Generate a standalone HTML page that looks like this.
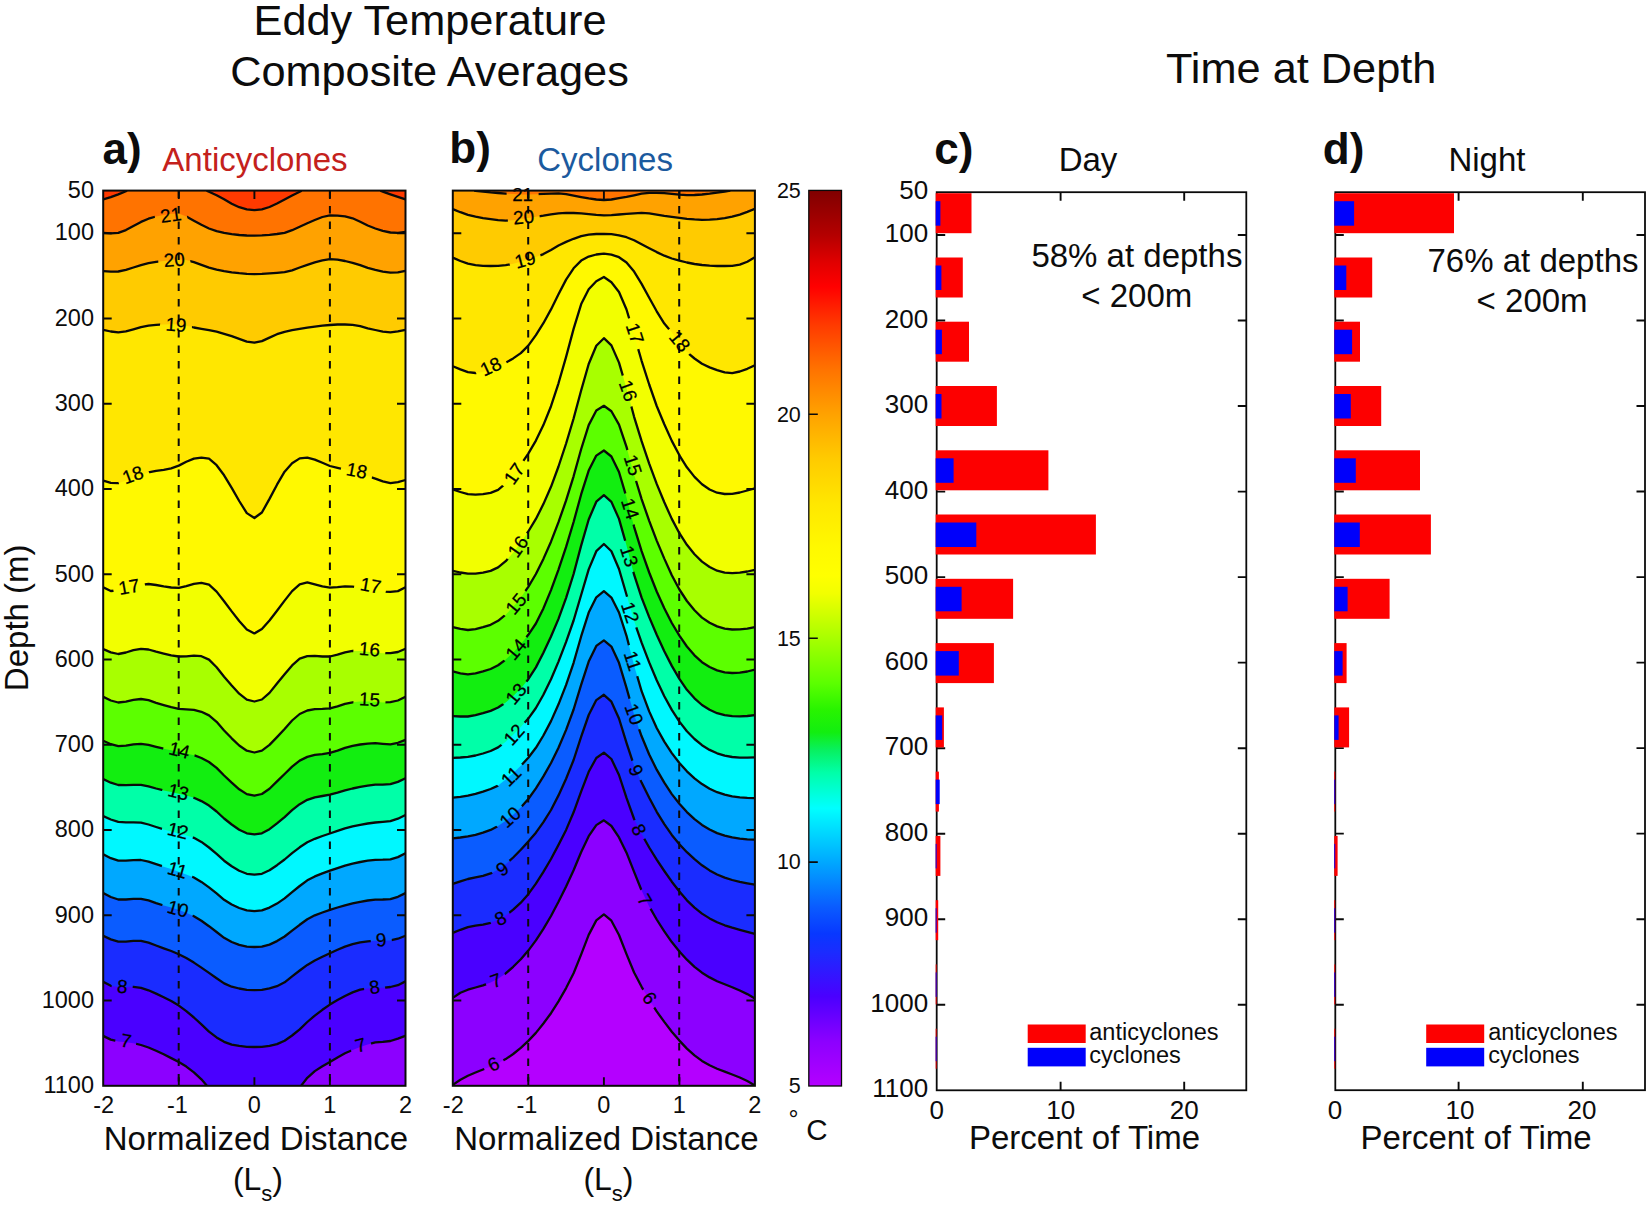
<!DOCTYPE html>
<html><head><meta charset="utf-8"><title>Eddy Temperature Composite Averages / Time at Depth</title>
<style>html,body{margin:0;padding:0;background:#fff}svg{display:block}</style></head>
<body>
<svg width="1650" height="1206" viewBox="0 0 1650 1206" font-family='"Liberation Sans", Arial, Helvetica, sans-serif' fill="#0c0c0c">
<rect width="1650" height="1206" fill="#fff"/>
<text x="430.0" y="34.8" font-size="43.3" text-anchor="middle">Eddy Temperature</text>
<text x="429.5" y="86.2" font-size="43.3" text-anchor="middle">Composite Averages</text>
<text x="1301.2" y="82.6" font-size="43.3" text-anchor="middle">Time at Depth</text>
<text x="102.5" y="163.5" font-size="44" font-weight="bold">a)</text>
<text x="449.3" y="162.8" font-size="44" font-weight="bold">b)</text>
<text x="934.3" y="163.5" font-size="44" font-weight="bold">c)</text>
<text x="1322.8" y="163.5" font-size="44" font-weight="bold">d)</text>
<text x="255.0" y="171.0" font-size="33" text-anchor="middle" fill="#c4211c">Anticyclones</text>
<text x="605.1" y="170.5" font-size="33" text-anchor="middle" fill="#1b5a9e">Cyclones</text>
<text x="1088.0" y="171.0" font-size="33" text-anchor="middle">Day</text>
<text x="1486.9" y="171.0" font-size="33" text-anchor="middle">Night</text>
<defs><clipPath id="ca"><rect x="103.2" y="190.6" width="302.3" height="895.2"/></clipPath>
<clipPath id="cb"><rect x="452.8" y="190.6" width="302.1" height="895.2"/></clipPath>
<linearGradient id="cbar" x1="0" y1="0" x2="0" y2="1"><stop offset="0.0000" stop-color="#800000"/><stop offset="0.0500" stop-color="#b40000"/><stop offset="0.0800" stop-color="#e00000"/><stop offset="0.1075" stop-color="#ff0000"/><stop offset="0.1500" stop-color="#ff3a00"/><stop offset="0.2000" stop-color="#ff7300"/><stop offset="0.2500" stop-color="#ffa200"/><stop offset="0.3000" stop-color="#ffcb00"/><stop offset="0.3500" stop-color="#ffe700"/><stop offset="0.4000" stop-color="#fff900"/><stop offset="0.4300" stop-color="#ffff00"/><stop offset="0.4500" stop-color="#f2ff00"/><stop offset="0.5000" stop-color="#a8ff00"/><stop offset="0.5500" stop-color="#5cff00"/><stop offset="0.5800" stop-color="#28f400"/><stop offset="0.6050" stop-color="#12ee10"/><stop offset="0.6250" stop-color="#08f060"/><stop offset="0.6500" stop-color="#00ffa8"/><stop offset="0.6900" stop-color="#00ffff"/><stop offset="0.7000" stop-color="#00f0ff"/><stop offset="0.7500" stop-color="#00a8ff"/><stop offset="0.8000" stop-color="#0a5cff"/><stop offset="0.8300" stop-color="#0838ff"/><stop offset="0.8500" stop-color="#1a2cff"/><stop offset="0.9000" stop-color="#4a00ff"/><stop offset="0.9500" stop-color="#8c00ff"/><stop offset="1.0000" stop-color="#b400ff"/></linearGradient>
<mask id="ma" maskUnits="userSpaceOnUse" x="98.2" y="185.6" width="312.3" height="905.2"><rect x="98.2" y="185.6" width="312.3" height="905.2" fill="#fff"/><rect x="154.7" y="206.9" width="32" height="16" fill="#000" transform="rotate(-8 170.7 214.9)"/><rect x="158.2" y="251.6" width="32" height="16" fill="#000" transform="rotate(-4 174.2 259.6)"/><rect x="160.1" y="316.6" width="32" height="16" fill="#000" transform="rotate(4 176.1 324.6)"/><rect x="116.8" y="466.7" width="32" height="16" fill="#000" transform="rotate(-20 132.8 474.7)"/><rect x="340.9" y="462.5" width="32" height="16" fill="#000" transform="rotate(11 356.9 470.5)"/><rect x="113.0" y="578.7" width="32" height="16" fill="#000" transform="rotate(-10 129.0 586.7)"/><rect x="354.6" y="577.3" width="32" height="16" fill="#000" transform="rotate(10 370.6 585.3)"/><rect x="353.6" y="641.1" width="32" height="16" fill="#000" transform="rotate(5 369.6 649.1)"/><rect x="353.6" y="691.2" width="32" height="16" fill="#000" transform="rotate(3 369.6 699.2)"/><rect x="163.4" y="742.0" width="32" height="16" fill="#000" transform="rotate(14 179.4 750.0)"/><rect x="162.4" y="783.7" width="32" height="16" fill="#000" transform="rotate(14 178.4 791.7)"/><rect x="162.0" y="822.6" width="32" height="16" fill="#000" transform="rotate(14 178.0 830.6)"/><rect x="161.5" y="861.8" width="32" height="16" fill="#000" transform="rotate(16 177.5 869.8)"/><rect x="162.0" y="900.6" width="32" height="16" fill="#000" transform="rotate(16 178.0 908.6)"/><rect x="370.7" y="931.6" width="21" height="16" fill="#000" transform="rotate(-5 381.2 939.6)"/><rect x="111.7" y="978.2" width="21" height="16" fill="#000" transform="rotate(5 122.2 986.2)"/><rect x="363.9" y="978.8" width="21" height="16" fill="#000" transform="rotate(-8 374.4 986.8)"/><rect x="115.5" y="1032.6" width="21" height="16" fill="#000" transform="rotate(10 126.0 1040.6)"/><rect x="350.0" y="1037.0" width="21" height="16" fill="#000" transform="rotate(-15 360.5 1045.0)"/></mask><mask id="mb" maskUnits="userSpaceOnUse" x="447.8" y="185.6" width="312.1" height="905.2"><rect x="447.8" y="185.6" width="312.1" height="905.2" fill="#fff"/><rect x="506.6" y="186.6" width="32" height="16" fill="#000" transform="rotate(0 522.6 194.6)"/><rect x="507.6" y="208.9" width="32" height="16" fill="#000" transform="rotate(-5 523.6 216.9)"/><rect x="509.0" y="251.6" width="32" height="16" fill="#000" transform="rotate(-15 525.0 259.6)"/><rect x="474.6" y="358.3" width="32" height="16" fill="#000" transform="rotate(-25 490.6 366.3)"/><rect x="663.8" y="333.1" width="32" height="16" fill="#000" transform="rotate(50 679.8 341.1)"/><rect x="619.2" y="325.3" width="32" height="16" fill="#000" transform="rotate(72 635.2 333.3)"/><rect x="612.4" y="382.6" width="32" height="16" fill="#000" transform="rotate(70 628.4 390.6)"/><rect x="497.9" y="465.7" width="32" height="16" fill="#000" transform="rotate(-55 513.9 473.7)"/><rect x="501.8" y="538.5" width="32" height="16" fill="#000" transform="rotate(-55 517.8 546.5)"/><rect x="499.8" y="595.8" width="32" height="16" fill="#000" transform="rotate(-50 515.8 603.8)"/><rect x="617.2" y="457.0" width="32" height="16" fill="#000" transform="rotate(72 633.2 465.0)"/><rect x="614.3" y="500.7" width="32" height="16" fill="#000" transform="rotate(72 630.3 508.7)"/><rect x="613.4" y="548.2" width="32" height="16" fill="#000" transform="rotate(72 629.4 556.2)"/><rect x="614.3" y="604.5" width="32" height="16" fill="#000" transform="rotate(72 630.3 612.5)"/><rect x="499.8" y="641.1" width="32" height="16" fill="#000" transform="rotate(-50 515.8 649.1)"/><rect x="499.8" y="685.7" width="32" height="16" fill="#000" transform="rotate(-50 515.8 693.7)"/><rect x="497.9" y="726.5" width="32" height="16" fill="#000" transform="rotate(-48 513.9 734.5)"/><rect x="495.0" y="768.2" width="32" height="16" fill="#000" transform="rotate(-45 511.0 776.2)"/><rect x="494.0" y="809.0" width="32" height="16" fill="#000" transform="rotate(-42 510.0 817.0)"/><rect x="616.9" y="652.8" width="32" height="16" fill="#000" transform="rotate(72 632.9 660.8)"/><rect x="618.2" y="706.1" width="32" height="16" fill="#000" transform="rotate(70 634.2 714.1)"/><rect x="625.7" y="762.4" width="21" height="16" fill="#000" transform="rotate(68 636.2 770.4)"/><rect x="628.6" y="821.6" width="21" height="16" fill="#000" transform="rotate(65 639.1 829.6)"/><rect x="491.7" y="860.8" width="21" height="16" fill="#000" transform="rotate(-35 502.2 868.8)"/><rect x="489.8" y="910.3" width="21" height="16" fill="#000" transform="rotate(-25 500.3 918.3)"/><rect x="485.3" y="972.4" width="21" height="16" fill="#000" transform="rotate(-20 495.8 980.4)"/><rect x="634.4" y="891.9" width="21" height="16" fill="#000" transform="rotate(60 644.9 899.9)"/><rect x="639.2" y="989.9" width="21" height="16" fill="#000" transform="rotate(55 649.7 997.9)"/><rect x="483.0" y="1056.0" width="21" height="16" fill="#000" transform="rotate(-25 493.5 1064.0)"/></mask></defs>
<g clip-path="url(#ca)">
<rect x="103.2" y="190.6" width="302.3" height="895.2" fill="#ff7300"/>
<path d="M98.2,185.6L98.2,199.4L103.2,199.4L110.8,197.1L118.3,194.4L125.9,191.2L127.0,190.7L127.0,185.6Z" fill="#ff3a00"/>
<path d="M206.6,185.6L206.6,190.7L209.0,191.8L216.6,195.2L224.1,199.3L231.7,203.7L239.2,207.2L246.8,209.4L254.4,210.1L261.9,209.3L269.5,207.0L277.0,203.5L284.6,199.5L292.1,195.5L299.7,191.7L301.7,190.7L301.7,185.6Z" fill="#ff3a00"/>
<path d="M380.3,185.6L380.3,190.7L382.8,191.6L390.4,194.3L397.9,196.9L405.5,199.4L410.5,199.4L410.5,185.6Z" fill="#ff3a00"/>
<path d="M98.2,232.8L103.2,232.8L110.8,233.3L118.3,232.9L125.9,230.1L133.4,226.0L141.0,221.9L148.5,218.7L156.1,216.5L163.7,215.0L171.2,213.7L178.8,213.4L186.3,216.6L193.9,220.8L201.4,224.8L209.0,228.5L216.6,231.2L224.1,232.9L231.7,234.1L239.2,235.0L246.8,235.5L254.4,235.7L261.9,235.4L269.5,234.8L277.0,234.0L284.6,232.9L292.1,230.2L299.7,226.7L307.3,223.2L314.8,220.0L322.4,217.0L329.9,215.4L337.5,215.7L345.0,216.4L352.6,218.3L360.2,221.7L367.7,225.5L375.3,228.5L382.8,230.9L390.4,232.5L397.9,232.9L405.5,232.0L410.5,232.0L410.5,1090.8L98.2,1090.8Z" fill="#ffa200"/>
<path d="M98.2,271.2L103.2,271.2L110.8,271.7L118.3,271.5L125.9,269.9L133.4,267.5L141.0,265.1L148.5,263.2L156.1,261.9L163.7,260.9L171.2,260.0L178.8,259.6L186.3,260.1L193.9,262.1L201.4,264.8L209.0,267.6L216.6,269.6L224.1,271.1L231.7,272.3L239.2,273.2L246.8,273.8L254.4,274.1L261.9,273.9L269.5,273.4L277.0,272.8L284.6,272.2L292.1,270.3L299.7,267.5L307.3,264.8L314.8,262.4L322.4,260.3L329.9,259.2L337.5,259.6L345.0,261.0L352.6,262.8L360.2,265.2L367.7,267.9L375.3,269.9L382.8,271.6L390.4,272.7L397.9,272.4L405.5,270.8L410.5,270.8L410.5,1090.8L98.2,1090.8Z" fill="#ffcb00"/>
<path d="M98.2,329.8L103.2,329.8L110.8,331.5L118.3,332.4L125.9,331.4L133.4,329.3L141.0,327.1L148.5,325.6L156.1,324.8L163.7,324.4L171.2,324.2L178.8,324.6L186.3,325.8L193.9,327.5L201.4,328.8L209.0,330.1L216.6,331.7L224.1,333.8L231.7,336.2L239.2,338.8L246.8,341.6L254.4,342.6L261.9,341.1L269.5,337.6L277.0,334.2L284.6,331.8L292.1,330.2L299.7,328.9L307.3,327.7L314.8,326.6L322.4,325.7L329.9,325.0L337.5,324.5L345.0,324.5L352.6,324.9L360.2,326.2L367.7,328.3L375.3,330.0L382.8,331.6L390.4,332.3L397.9,331.4L405.5,329.8L410.5,329.8L410.5,1090.8L98.2,1090.8Z" fill="#ffe700"/>
<path d="M98.2,480.5L103.2,480.5L110.8,482.8L118.3,483.2L125.9,480.8L133.4,478.0L141.0,475.0L148.5,472.4L156.1,470.8L163.7,469.8L171.2,468.3L178.8,465.6L186.3,461.8L193.9,458.6L201.4,457.6L209.0,458.7L216.6,465.2L224.1,475.3L231.7,487.9L239.2,501.0L246.8,513.1L254.4,518.0L261.9,512.5L269.5,498.9L277.0,484.7L284.6,471.7L292.1,463.3L299.7,458.4L307.3,457.7L314.8,459.6L322.4,462.8L329.9,466.0L337.5,467.8L345.0,469.6L352.6,471.5L360.2,473.7L367.7,476.1L375.3,478.6L382.8,481.4L390.4,483.1L397.9,482.1L405.5,480.0L410.5,480.0L410.5,1090.8L98.2,1090.8Z" fill="#fff900"/>
<path d="M98.2,587.3L103.2,587.3L110.8,591.0L118.3,590.3L125.9,588.2L133.4,586.5L141.0,584.8L148.5,584.0L156.1,585.0L163.7,586.4L171.2,587.5L178.8,587.9L186.3,586.1L193.9,583.9L201.4,582.8L209.0,584.7L216.6,591.6L224.1,601.2L231.7,611.4L239.2,621.0L246.8,629.4L254.4,633.4L261.9,629.0L269.5,620.5L277.0,610.8L284.6,600.6L292.1,591.1L299.7,584.3L307.3,582.4L314.8,584.3L322.4,586.4L329.9,587.7L337.5,587.1L345.0,586.3L352.6,586.7L360.2,587.6L367.7,588.8L375.3,590.3L382.8,591.6L390.4,591.9L397.9,591.1L405.5,587.3L410.5,587.3L410.5,1090.8L98.2,1090.8Z" fill="#f2ff00"/>
<path d="M98.2,649.1L103.2,649.1L110.8,652.4L118.3,654.0L125.9,652.5L133.4,650.2L141.0,648.8L148.5,649.5L156.1,651.7L163.7,653.6L171.2,655.3L178.8,656.5L186.3,656.3L193.9,655.7L201.4,656.2L209.0,659.6L216.6,667.3L224.1,676.8L231.7,685.5L239.2,693.7L246.8,699.6L254.4,701.5L261.9,699.5L269.5,692.9L277.0,683.5L284.6,674.3L292.1,665.4L299.7,658.6L307.3,656.1L314.8,655.9L322.4,656.5L329.9,656.5L337.5,654.7L345.0,652.4L352.6,650.9L360.2,651.0L367.7,651.8L375.3,652.4L382.8,653.2L390.4,653.2L397.9,652.0L405.5,648.7L410.5,648.7L410.5,1090.8L98.2,1090.8Z" fill="#a8ff00"/>
<path d="M98.2,696.7L103.2,696.7L110.8,700.5L118.3,702.5L125.9,701.6L133.4,699.9L141.0,699.0L148.5,700.2L156.1,702.8L163.7,705.1L171.2,707.2L178.8,708.9L186.3,709.4L193.9,709.8L201.4,711.8L209.0,715.4L216.6,721.8L224.1,730.5L231.7,738.3L239.2,745.5L246.8,750.7L254.4,752.5L261.9,750.6L269.5,744.9L277.0,737.1L284.6,729.0L292.1,720.5L299.7,714.0L307.3,710.5L314.8,709.1L322.4,708.9L329.9,708.3L337.5,706.3L345.0,703.9L352.6,702.3L360.2,701.6L367.7,701.5L375.3,701.7L382.8,702.4L390.4,702.1L397.9,700.5L405.5,696.7L410.5,696.7L410.5,1090.8L98.2,1090.8Z" fill="#5cff00"/>
<path d="M98.2,740.7L103.2,740.7L110.8,744.2L118.3,746.1L125.9,745.7L133.4,744.4L141.0,743.8L148.5,744.8L156.1,746.8L163.7,748.7L171.2,750.3L178.8,751.9L186.3,753.4L193.9,755.2L201.4,758.0L209.0,762.0L216.6,767.9L224.1,775.5L231.7,782.6L239.2,789.3L246.8,794.1L254.4,795.6L261.9,794.0L269.5,788.8L277.0,781.4L284.6,774.0L292.1,766.6L299.7,760.6L307.3,756.9L314.8,754.9L322.4,754.1L329.9,752.9L337.5,750.6L345.0,747.9L352.6,745.8L360.2,744.5L367.7,743.6L375.3,743.2L382.8,743.8L390.4,744.3L397.9,742.8L405.5,739.9L410.5,739.9L410.5,1090.8L98.2,1090.8Z" fill="#12ee10"/>
<path d="M98.2,779.1L103.2,779.1L110.8,782.7L118.3,785.0L125.9,785.2L133.4,784.8L141.0,784.9L148.5,786.3L156.1,788.5L163.7,790.4L171.2,792.0L178.8,793.7L186.3,795.5L193.9,797.8L201.4,801.1L209.0,805.6L216.6,811.5L224.1,818.5L231.7,824.5L239.2,829.7L246.8,833.3L254.4,834.4L261.9,833.3L269.5,829.2L277.0,823.4L284.6,817.1L292.1,810.2L299.7,804.2L307.3,799.8L314.8,797.3L322.4,796.0L329.9,794.6L337.5,792.6L345.0,790.4L352.6,788.5L360.2,786.9L367.7,785.6L375.3,784.7L382.8,784.6L390.4,784.2L397.9,781.9L405.5,778.2L410.5,778.2L410.5,1090.8L98.2,1090.8Z" fill="#00ffa8"/>
<path d="M98.2,816.0L103.2,816.0L110.8,819.5L118.3,821.8L125.9,822.3L133.4,822.3L141.0,822.7L148.5,824.5L156.1,827.0L163.7,829.4L171.2,831.4L178.8,833.5L186.3,835.4L193.9,837.8L201.4,841.9L209.0,847.5L216.6,853.8L224.1,860.7L231.7,866.3L239.2,870.8L246.8,873.8L254.4,874.6L261.9,873.8L269.5,870.3L277.0,865.2L284.6,859.5L292.1,853.1L299.7,847.3L307.3,842.3L314.8,838.8L322.4,836.0L329.9,833.5L337.5,830.8L345.0,828.4L352.6,826.3L360.2,824.8L367.7,823.5L375.3,822.5L382.8,821.9L390.4,821.2L397.9,818.7L405.5,815.0L410.5,815.0L410.5,1090.8L98.2,1090.8Z" fill="#00f8ff"/>
<path d="M98.2,854.3L103.2,854.3L110.8,858.2L118.3,860.7L125.9,860.7L133.4,860.1L141.0,860.0L148.5,861.6L156.1,864.2L163.7,866.7L171.2,869.1L178.8,871.7L186.3,874.4L193.9,877.5L201.4,881.9L209.0,887.4L216.6,893.4L224.1,899.8L231.7,904.5L239.2,908.0L246.8,910.4L254.4,911.1L261.9,910.4L269.5,907.6L277.0,903.6L284.6,898.4L292.1,892.1L299.7,886.0L307.3,880.3L314.8,876.4L322.4,873.4L329.9,870.7L337.5,868.1L345.0,865.7L352.6,863.6L360.2,862.0L367.7,860.7L375.3,859.8L382.8,859.7L390.4,859.4L397.9,857.1L405.5,853.3L410.5,853.3L410.5,1090.8L98.2,1090.8Z" fill="#00a8ff"/>
<path d="M98.2,893.1L103.2,893.1L110.8,897.0L118.3,899.5L125.9,899.5L133.4,898.9L141.0,898.8L148.5,900.4L156.1,903.1L163.7,905.5L171.2,907.6L178.8,909.9L186.3,912.8L193.9,916.3L201.4,920.8L209.0,926.2L216.6,932.0L224.1,937.8L231.7,942.0L239.2,944.9L246.8,946.7L254.4,947.0L261.9,946.7L269.5,944.6L277.0,941.1L284.6,936.5L292.1,930.7L299.7,924.8L307.3,919.2L314.8,915.3L322.4,912.5L329.9,909.9L337.5,907.5L345.0,905.3L352.6,903.4L360.2,901.8L367.7,900.5L375.3,899.6L382.8,899.5L390.4,899.1L397.9,896.8L405.5,893.1L410.5,893.1L410.5,1090.8L98.2,1090.8Z" fill="#0a5cff"/>
<path d="M98.2,935.8L103.2,935.8L110.8,939.4L118.3,941.6L125.9,941.6L133.4,940.9L141.0,940.9L148.5,942.7L156.1,945.5L163.7,948.3L171.2,951.0L178.8,954.2L186.3,958.1L193.9,962.6L201.4,967.6L209.0,972.9L216.6,978.2L224.1,983.4L231.7,986.7L239.2,988.5L246.8,989.8L254.4,990.1L261.9,989.8L269.5,988.3L277.0,986.2L284.6,982.3L292.1,976.3L299.7,970.5L307.3,964.9L314.8,960.5L322.4,956.7L329.9,953.2L337.5,949.8L345.0,946.6L352.6,944.1L360.2,942.4L367.7,941.3L375.3,940.7L382.8,940.7L390.4,940.4L397.9,938.7L405.5,935.8L410.5,935.8L410.5,1090.8L98.2,1090.8Z" fill="#1a2cff"/>
<path d="M98.2,981.8L103.2,981.8L110.8,985.8L118.3,987.1L125.9,986.9L133.4,986.8L141.0,987.8L148.5,990.3L156.1,993.6L163.7,997.2L171.2,1001.1L178.8,1005.6L186.3,1011.2L193.9,1017.5L201.4,1024.4L209.0,1031.7L216.6,1037.4L224.1,1041.8L231.7,1044.6L239.2,1045.9L246.8,1046.8L254.4,1047.0L261.9,1046.8L269.5,1045.8L277.0,1044.1L284.6,1040.7L292.1,1035.5L299.7,1029.3L307.3,1022.0L314.8,1015.6L322.4,1009.8L329.9,1004.6L337.5,1000.1L345.0,996.0L352.6,992.4L360.2,989.6L367.7,988.4L375.3,988.0L382.8,987.8L390.4,987.0L397.9,985.2L405.5,981.4L410.5,981.4L410.5,1090.8L98.2,1090.8Z" fill="#4a00ff"/>
<path d="M98.2,1035.9L103.1,1035.9L110.8,1039.6L118.3,1041.4L125.9,1042.2L133.4,1043.2L141.0,1045.0L148.5,1047.5L156.1,1050.7L163.7,1054.3L171.2,1058.1L178.8,1062.1L186.3,1066.6L193.9,1072.3L201.4,1079.3L207.1,1085.9L207.1,1090.8L98.2,1090.8Z" fill="#8c00ff"/>
<path d="M301.0,1090.8L301.0,1085.9L307.3,1077.8L314.8,1071.1L322.4,1066.2L329.9,1061.9L337.5,1057.4L345.0,1053.3L352.6,1050.0L360.2,1047.1L367.7,1044.4L375.3,1042.4L382.8,1041.8L390.4,1041.0L397.9,1038.6L405.3,1035.9L410.5,1035.9L410.5,1090.8Z" fill="#8c00ff"/>
</g>
<g clip-path="url(#cb)">
<rect x="452.8" y="190.6" width="302.1" height="895.2" fill="#ffa200"/>
<path d="M474.1,185.6L474.1,190.7L475.5,190.8L483.0,191.6L490.6,192.4L498.1,193.0L505.7,193.6L513.2,194.1L520.8,194.5L528.3,194.6L535.9,194.2L543.4,193.9L551.0,193.6L558.5,193.4L566.1,194.2L573.6,195.7L581.2,197.1L588.7,198.4L596.3,199.5L603.9,200.0L611.4,199.5L619.0,198.2L626.5,196.9L634.1,195.3L641.6,193.6L649.2,192.9L656.7,192.9L664.3,193.2L671.8,193.8L679.4,194.6L686.9,195.1L694.5,195.0L702.0,194.5L709.6,193.7L717.1,192.6L724.7,191.5L730.3,190.7L730.3,185.6Z" fill="#ff7300"/>
<path d="M447.8,209.1L452.8,209.1L460.4,212.2L467.9,214.8L475.5,216.7L483.0,218.1L490.6,219.2L498.1,220.2L505.7,220.7L513.2,220.3L520.8,219.0L528.3,217.9L535.9,216.8L543.4,215.7L551.0,214.4L558.5,213.3L566.1,212.8L573.6,213.0L581.2,213.4L588.7,214.1L596.3,214.9L603.9,215.3L611.4,215.1L619.0,214.5L626.5,213.9L634.1,213.3L641.6,212.9L649.2,213.4L656.7,214.6L664.3,215.9L671.8,216.9L679.4,217.9L686.9,218.8L694.5,219.4L702.0,219.8L709.6,219.7L717.1,219.1L724.7,218.1L732.2,216.7L739.8,214.6L747.3,211.9L754.9,208.7L759.9,208.7L759.9,1090.8L447.8,1090.8Z" fill="#ffcb00"/>
<path d="M447.8,257.6L452.8,257.6L460.4,261.0L467.9,263.7L475.5,265.1L483.0,265.8L490.6,266.0L498.1,265.9L505.7,265.2L513.2,263.8L520.8,261.7L528.3,259.5L535.9,257.1L543.4,254.1L551.0,249.9L558.5,245.5L566.1,241.9L573.6,238.8L581.2,236.2L588.7,234.7L596.3,234.0L603.9,233.8L611.4,234.1L619.0,235.3L626.5,237.2L634.1,240.3L641.6,244.3L649.2,248.2L656.7,252.1L664.3,255.7L671.8,258.5L679.4,260.7L686.9,262.5L694.5,264.0L702.0,265.0L709.6,265.7L717.1,266.0L724.7,266.0L732.2,265.8L739.8,264.6L747.3,261.7L754.9,257.2L759.9,257.2L759.9,1090.8L447.8,1090.8Z" fill="#ffe700"/>
<path d="M447.8,366.3L452.8,366.3L460.4,369.4L467.9,372.2L475.5,373.0L483.0,371.9L490.6,369.9L498.1,366.6L505.7,362.7L513.2,358.4L520.8,353.1L528.3,345.6L535.9,335.1L543.4,323.2L551.0,309.4L558.5,294.3L566.1,279.6L573.6,268.3L581.2,260.6L588.7,256.6L596.3,254.5L603.9,253.7L611.4,254.6L619.0,257.2L626.5,262.5L634.1,271.6L641.6,283.9L649.2,297.8L656.7,311.3L664.3,323.6L671.8,332.4L679.4,343.7L686.9,352.1L694.5,358.5L702.0,363.7L709.6,367.4L717.1,370.1L724.7,372.3L732.2,373.1L739.8,371.5L747.3,368.8L754.9,365.3L759.9,365.3L759.9,1090.8L447.8,1090.8Z" fill="#fff900"/>
<path d="M447.8,489.3L452.8,489.3L460.4,492.0L467.9,494.1L475.5,494.6L483.0,494.1L490.6,492.9L498.1,489.9L505.7,483.4L513.2,474.7L520.8,464.7L528.3,453.6L535.9,440.6L543.4,425.1L551.0,406.2L558.5,383.3L566.1,356.9L573.6,328.9L581.2,304.1L588.7,289.3L596.3,281.2L603.9,277.0L611.4,282.3L619.0,292.0L626.5,309.5L634.1,334.8L641.6,360.8L649.2,384.5L656.7,406.0L664.3,424.3L671.8,440.9L679.4,455.3L686.9,467.3L694.5,476.9L702.0,484.3L709.6,489.5L717.1,492.7L724.7,494.0L732.2,493.8L739.8,492.5L747.3,490.5L754.9,488.3L759.9,488.3L759.9,1090.8L447.8,1090.8Z" fill="#f2ff00"/>
<path d="M447.8,570.8L452.8,570.8L460.4,572.5L467.9,573.7L475.5,573.6L483.0,572.6L490.6,570.9L498.1,567.4L505.7,561.2L513.2,552.6L520.8,542.7L528.3,531.5L535.9,518.9L543.4,504.1L551.0,486.8L558.5,466.5L566.1,443.5L573.6,418.5L581.2,390.3L588.7,364.0L596.3,345.8L603.9,338.2L611.4,345.4L619.0,362.6L626.5,388.3L634.1,416.8L641.6,441.2L649.2,463.6L656.7,483.9L664.3,502.3L671.8,518.9L679.4,533.2L686.9,544.8L694.5,554.2L702.0,561.6L709.6,567.0L717.1,570.7L724.7,572.7L732.2,573.2L739.8,572.7L747.3,571.5L754.9,569.8L759.9,569.8L759.9,1090.8L447.8,1090.8Z" fill="#a8ff00"/>
<path d="M447.8,627.1L452.8,627.1L460.4,628.9L467.9,630.0L475.5,629.1L483.0,627.2L490.6,624.8L498.1,620.8L505.7,614.7L513.2,606.8L520.8,597.5L528.3,586.8L535.9,574.0L543.4,558.9L551.0,541.7L558.5,522.2L566.1,500.4L573.6,476.3L581.2,449.0L588.7,425.1L596.3,410.5L603.9,405.8L611.4,411.2L619.0,424.6L626.5,446.9L634.1,474.5L641.6,499.1L649.2,520.8L656.7,540.6L664.3,558.6L671.8,575.2L679.4,589.5L686.9,601.0L694.5,610.3L702.0,617.6L709.6,622.8L717.1,626.4L724.7,628.6L732.2,629.5L739.8,629.4L747.3,628.6L754.9,627.1L759.9,627.1L759.9,1090.8L447.8,1090.8Z" fill="#5cff00"/>
<path d="M447.8,671.4L452.8,671.4L460.4,673.3L467.9,674.3L475.5,673.4L483.0,671.4L490.6,669.0L498.1,665.2L505.7,659.6L513.2,652.4L520.8,644.2L528.3,634.8L535.9,623.5L543.4,608.4L551.0,590.1L558.5,569.6L566.1,546.9L573.6,522.0L581.2,494.2L588.7,470.6L596.3,455.6L603.9,450.5L611.4,456.5L619.0,472.0L626.5,497.4L634.1,526.8L641.6,551.1L649.2,572.5L656.7,591.5L664.3,608.2L671.8,623.0L679.4,635.7L686.9,646.5L694.5,655.3L702.0,662.2L709.6,667.0L717.1,670.4L724.7,672.3L732.2,673.0L739.8,672.7L747.3,671.5L754.9,669.5L759.9,669.5L759.9,1090.8L447.8,1090.8Z" fill="#12ee10"/>
<path d="M447.8,716.1L452.8,716.1L460.4,716.5L467.9,716.5L475.5,715.2L483.0,713.2L490.6,710.9L498.1,707.5L505.7,702.5L513.2,696.1L520.8,688.4L528.3,679.2L535.9,667.4L543.4,652.8L551.0,636.5L558.5,618.9L566.1,597.8L573.6,574.0L581.2,545.4L588.7,519.5L596.3,501.7L603.9,495.1L611.4,501.9L619.0,518.9L626.5,545.4L634.1,574.7L641.6,597.7L649.2,617.1L656.7,634.8L664.3,651.3L671.8,665.9L679.4,678.9L686.9,689.8L694.5,698.3L702.0,705.0L709.6,709.8L717.1,713.2L724.7,715.2L732.2,716.2L739.8,716.4L747.3,716.0L754.9,715.1L759.9,715.1L759.9,1090.8L447.8,1090.8Z" fill="#00ffa8"/>
<path d="M447.8,757.8L452.8,757.8L460.4,757.5L467.9,756.9L475.5,755.5L483.0,753.5L490.6,751.0L498.1,747.4L505.7,741.7L513.2,734.8L520.8,727.1L528.3,718.6L535.9,708.0L543.4,694.7L551.0,679.2L558.5,661.6L566.1,641.9L573.6,620.5L581.2,594.7L588.7,569.4L596.3,551.2L603.9,544.0L611.4,551.3L619.0,569.0L626.5,594.8L634.1,621.1L641.6,642.7L649.2,662.4L656.7,680.2L664.3,696.2L671.8,709.9L679.4,721.6L686.9,731.3L694.5,739.0L702.0,745.2L709.6,749.9L717.1,753.3L724.7,755.7L732.2,757.0L739.8,757.7L747.3,757.7L754.9,757.4L759.9,757.4L759.9,1090.8L447.8,1090.8Z" fill="#00f8ff"/>
<path d="M447.8,797.6L452.8,797.6L460.4,796.8L467.9,795.7L475.5,793.9L483.0,791.7L490.6,789.0L498.1,785.6L505.7,779.6L513.2,773.0L520.8,765.8L528.3,757.8L535.9,747.8L543.4,735.5L551.0,721.1L558.5,704.3L566.1,684.9L573.6,662.8L581.2,636.2L588.7,612.6L596.3,597.3L603.9,591.2L611.4,597.6L619.0,612.5L626.5,635.8L634.1,665.4L641.6,691.2L649.2,711.4L656.7,728.0L664.3,741.6L671.8,753.1L679.4,763.0L686.9,771.3L694.5,778.3L702.0,784.1L709.6,788.7L717.1,792.2L724.7,794.7L732.2,796.3L739.8,797.3L747.3,797.9L754.9,798.1L759.9,798.1L759.9,1090.8L447.8,1090.8Z" fill="#00a8ff"/>
<path d="M447.8,838.3L452.8,838.3L460.4,837.5L467.9,836.4L475.5,834.8L483.0,832.7L490.6,829.9L498.1,825.9L505.7,820.8L513.2,814.7L520.8,807.6L528.3,799.0L535.9,788.3L543.4,776.4L551.0,763.0L558.5,747.7L566.1,729.9L573.6,709.5L581.2,684.7L588.7,661.6L596.3,645.9L603.9,640.4L611.4,646.6L619.0,662.8L626.5,687.8L634.1,714.8L641.6,736.3L649.2,754.5L656.7,769.7L664.3,782.7L671.8,794.1L679.4,803.8L686.9,812.1L694.5,819.1L702.0,824.9L709.6,829.5L717.1,833.1L724.7,835.6L732.2,837.4L739.8,838.6L747.3,839.3L754.9,839.7L759.9,839.7L759.9,1090.8L447.8,1090.8Z" fill="#0a5cff"/>
<path d="M447.8,883.8L452.8,883.8L460.4,881.3L467.9,879.0L475.5,877.4L483.0,875.8L490.6,873.4L498.1,869.5L505.7,864.2L513.2,857.5L520.8,849.8L528.3,841.6L535.9,832.7L543.4,822.1L551.0,810.0L558.5,795.4L566.1,778.7L573.6,760.0L581.2,736.7L588.7,715.0L596.3,700.1L603.9,694.8L611.4,701.7L619.0,718.5L626.5,742.9L634.1,765.9L641.6,782.6L649.2,797.8L656.7,811.8L664.3,824.2L671.8,834.9L679.4,844.2L686.9,852.2L694.5,859.2L702.0,865.3L709.6,870.4L717.1,874.5L724.7,877.6L732.2,880.0L739.8,881.8L747.3,883.3L754.9,884.7L759.9,884.7L759.9,1090.8L447.8,1090.8Z" fill="#1a2cff"/>
<path d="M447.8,932.9L452.8,932.9L460.4,929.8L467.9,927.1L475.5,925.7L483.0,924.6L490.6,922.8L498.1,919.8L505.7,915.5L513.2,909.7L520.8,902.7L528.3,894.2L535.9,883.7L543.4,871.9L551.0,859.0L558.5,844.9L566.1,829.9L573.6,812.3L581.2,791.3L588.7,771.8L596.3,758.0L603.9,752.6L611.4,759.0L619.0,775.0L626.5,797.9L634.1,819.0L641.6,834.0L649.2,847.5L656.7,859.7L664.3,871.0L671.8,881.7L679.4,891.5L686.9,900.3L694.5,907.6L702.0,913.6L709.6,918.4L717.1,922.3L724.7,925.3L732.2,927.7L739.8,929.9L747.3,931.9L754.9,934.0L759.9,934.0L759.9,1090.8L447.8,1090.8Z" fill="#4a00ff"/>
<path d="M447.8,997.9L452.8,997.9L460.4,992.7L467.9,989.7L475.5,987.5L483.0,985.3L490.6,982.6L498.1,978.8L505.7,973.4L513.2,966.8L520.8,959.3L528.3,950.6L535.9,940.4L543.4,928.8L551.0,916.0L558.5,901.8L566.1,886.4L573.6,870.2L581.2,852.0L588.7,836.2L596.3,825.1L603.9,820.3L611.4,826.0L619.0,837.4L626.5,852.7L634.1,871.9L641.6,890.5L649.2,906.4L656.7,919.5L664.3,931.4L671.8,942.1L679.4,951.4L686.9,959.7L694.5,966.8L702.0,972.7L709.6,977.4L717.1,981.2L724.7,984.3L732.2,987.2L739.8,990.5L747.3,994.1L754.9,998.4L759.9,998.4L759.9,1090.8L447.8,1090.8Z" fill="#8c00ff"/>
<path d="M447.8,1084.9L452.8,1084.9L460.4,1079.7L467.9,1075.7L475.5,1072.5L483.0,1069.5L490.6,1066.6L498.1,1063.2L505.7,1059.1L513.2,1054.0L520.8,1047.9L528.3,1040.9L535.9,1032.9L543.4,1023.5L551.0,1013.2L558.5,1001.4L566.1,988.1L573.6,973.3L581.2,954.4L588.7,934.9L596.3,920.4L603.9,914.4L611.4,920.7L619.0,935.0L626.5,954.1L634.1,972.5L641.6,986.8L649.2,999.7L656.7,1011.4L664.3,1021.9L671.8,1031.7L679.4,1040.6L686.9,1048.6L694.5,1055.3L702.0,1060.9L709.6,1065.3L717.1,1068.7L724.7,1071.6L732.2,1074.5L739.8,1077.5L747.3,1081.0L754.7,1085.3L759.9,1085.3L759.9,1090.8L447.8,1090.8Z" fill="#b400ff"/>
</g>
<g clip-path="url(#ca)"><g mask="url(#ma)" fill="none" stroke="#0a0a0a" stroke-width="2.3" stroke-linejoin="round">
<path d="M103.2,199.4L110.8,197.1L118.3,194.4L125.9,191.2L127.0,190.7"/>
<path d="M206.6,190.7L209.0,191.8L216.6,195.2L224.1,199.3L231.7,203.7L239.2,207.2L246.8,209.4L254.4,210.1L261.9,209.3L269.5,207.0L277.0,203.5L284.6,199.5L292.1,195.5L299.7,191.7L301.7,190.7"/>
<path d="M380.3,190.7L382.8,191.6L390.4,194.3L397.9,196.9L405.5,199.4"/>
<path d="M103.2,232.8L110.8,233.3L118.3,232.9L125.9,230.1L133.4,226.0L141.0,221.9L148.5,218.7L156.1,216.5L163.7,215.0L171.2,213.7L178.8,213.4L186.3,216.6L193.9,220.8L201.4,224.8L209.0,228.5L216.6,231.2L224.1,232.9L231.7,234.1L239.2,235.0L246.8,235.5L254.4,235.7L261.9,235.4L269.5,234.8L277.0,234.0L284.6,232.9L292.1,230.2L299.7,226.7L307.3,223.2L314.8,220.0L322.4,217.0L329.9,215.4L337.5,215.7L345.0,216.4L352.6,218.3L360.2,221.7L367.7,225.5L375.3,228.5L382.8,230.9L390.4,232.5L397.9,232.9L405.5,232.0"/>
<path d="M103.2,271.2L110.8,271.7L118.3,271.5L125.9,269.9L133.4,267.5L141.0,265.1L148.5,263.2L156.1,261.9L163.7,260.9L171.2,260.0L178.8,259.6L186.3,260.1L193.9,262.1L201.4,264.8L209.0,267.6L216.6,269.6L224.1,271.1L231.7,272.3L239.2,273.2L246.8,273.8L254.4,274.1L261.9,273.9L269.5,273.4L277.0,272.8L284.6,272.2L292.1,270.3L299.7,267.5L307.3,264.8L314.8,262.4L322.4,260.3L329.9,259.2L337.5,259.6L345.0,261.0L352.6,262.8L360.2,265.2L367.7,267.9L375.3,269.9L382.8,271.6L390.4,272.7L397.9,272.4L405.5,270.8"/>
<path d="M103.2,329.8L110.8,331.5L118.3,332.4L125.9,331.4L133.4,329.3L141.0,327.1L148.5,325.6L156.1,324.8L163.7,324.4L171.2,324.2L178.8,324.6L186.3,325.8L193.9,327.5L201.4,328.8L209.0,330.1L216.6,331.7L224.1,333.8L231.7,336.2L239.2,338.8L246.8,341.6L254.4,342.6L261.9,341.1L269.5,337.6L277.0,334.2L284.6,331.8L292.1,330.2L299.7,328.9L307.3,327.7L314.8,326.6L322.4,325.7L329.9,325.0L337.5,324.5L345.0,324.5L352.6,324.9L360.2,326.2L367.7,328.3L375.3,330.0L382.8,331.6L390.4,332.3L397.9,331.4L405.5,329.8"/>
<path d="M103.2,480.5L110.8,482.8L118.3,483.2L125.9,480.8L133.4,478.0L141.0,475.0L148.5,472.4L156.1,470.8L163.7,469.8L171.2,468.3L178.8,465.6L186.3,461.8L193.9,458.6L201.4,457.6L209.0,458.7L216.6,465.2L224.1,475.3L231.7,487.9L239.2,501.0L246.8,513.1L254.4,518.0L261.9,512.5L269.5,498.9L277.0,484.7L284.6,471.7L292.1,463.3L299.7,458.4L307.3,457.7L314.8,459.6L322.4,462.8L329.9,466.0L337.5,467.8L345.0,469.6L352.6,471.5L360.2,473.7L367.7,476.1L375.3,478.6L382.8,481.4L390.4,483.1L397.9,482.1L405.5,480.0"/>
<path d="M103.2,587.3L110.8,591.0L118.3,590.3L125.9,588.2L133.4,586.5L141.0,584.8L148.5,584.0L156.1,585.0L163.7,586.4L171.2,587.5L178.8,587.9L186.3,586.1L193.9,583.9L201.4,582.8L209.0,584.7L216.6,591.6L224.1,601.2L231.7,611.4L239.2,621.0L246.8,629.4L254.4,633.4L261.9,629.0L269.5,620.5L277.0,610.8L284.6,600.6L292.1,591.1L299.7,584.3L307.3,582.4L314.8,584.3L322.4,586.4L329.9,587.7L337.5,587.1L345.0,586.3L352.6,586.7L360.2,587.6L367.7,588.8L375.3,590.3L382.8,591.6L390.4,591.9L397.9,591.1L405.5,587.3"/>
<path d="M103.2,649.1L110.8,652.4L118.3,654.0L125.9,652.5L133.4,650.2L141.0,648.8L148.5,649.5L156.1,651.7L163.7,653.6L171.2,655.3L178.8,656.5L186.3,656.3L193.9,655.7L201.4,656.2L209.0,659.6L216.6,667.3L224.1,676.8L231.7,685.5L239.2,693.7L246.8,699.6L254.4,701.5L261.9,699.5L269.5,692.9L277.0,683.5L284.6,674.3L292.1,665.4L299.7,658.6L307.3,656.1L314.8,655.9L322.4,656.5L329.9,656.5L337.5,654.7L345.0,652.4L352.6,650.9L360.2,651.0L367.7,651.8L375.3,652.4L382.8,653.2L390.4,653.2L397.9,652.0L405.5,648.7"/>
<path d="M103.2,696.7L110.8,700.5L118.3,702.5L125.9,701.6L133.4,699.9L141.0,699.0L148.5,700.2L156.1,702.8L163.7,705.1L171.2,707.2L178.8,708.9L186.3,709.4L193.9,709.8L201.4,711.8L209.0,715.4L216.6,721.8L224.1,730.5L231.7,738.3L239.2,745.5L246.8,750.7L254.4,752.5L261.9,750.6L269.5,744.9L277.0,737.1L284.6,729.0L292.1,720.5L299.7,714.0L307.3,710.5L314.8,709.1L322.4,708.9L329.9,708.3L337.5,706.3L345.0,703.9L352.6,702.3L360.2,701.6L367.7,701.5L375.3,701.7L382.8,702.4L390.4,702.1L397.9,700.5L405.5,696.7"/>
<path d="M103.2,740.7L110.8,744.2L118.3,746.1L125.9,745.7L133.4,744.4L141.0,743.8L148.5,744.8L156.1,746.8L163.7,748.7L171.2,750.3L178.8,751.9L186.3,753.4L193.9,755.2L201.4,758.0L209.0,762.0L216.6,767.9L224.1,775.5L231.7,782.6L239.2,789.3L246.8,794.1L254.4,795.6L261.9,794.0L269.5,788.8L277.0,781.4L284.6,774.0L292.1,766.6L299.7,760.6L307.3,756.9L314.8,754.9L322.4,754.1L329.9,752.9L337.5,750.6L345.0,747.9L352.6,745.8L360.2,744.5L367.7,743.6L375.3,743.2L382.8,743.8L390.4,744.3L397.9,742.8L405.5,739.9"/>
<path d="M103.2,779.1L110.8,782.7L118.3,785.0L125.9,785.2L133.4,784.8L141.0,784.9L148.5,786.3L156.1,788.5L163.7,790.4L171.2,792.0L178.8,793.7L186.3,795.5L193.9,797.8L201.4,801.1L209.0,805.6L216.6,811.5L224.1,818.5L231.7,824.5L239.2,829.7L246.8,833.3L254.4,834.4L261.9,833.3L269.5,829.2L277.0,823.4L284.6,817.1L292.1,810.2L299.7,804.2L307.3,799.8L314.8,797.3L322.4,796.0L329.9,794.6L337.5,792.6L345.0,790.4L352.6,788.5L360.2,786.9L367.7,785.6L375.3,784.7L382.8,784.6L390.4,784.2L397.9,781.9L405.5,778.2"/>
<path d="M103.2,816.0L110.8,819.5L118.3,821.8L125.9,822.3L133.4,822.3L141.0,822.7L148.5,824.5L156.1,827.0L163.7,829.4L171.2,831.4L178.8,833.5L186.3,835.4L193.9,837.8L201.4,841.9L209.0,847.5L216.6,853.8L224.1,860.7L231.7,866.3L239.2,870.8L246.8,873.8L254.4,874.6L261.9,873.8L269.5,870.3L277.0,865.2L284.6,859.5L292.1,853.1L299.7,847.3L307.3,842.3L314.8,838.8L322.4,836.0L329.9,833.5L337.5,830.8L345.0,828.4L352.6,826.3L360.2,824.8L367.7,823.5L375.3,822.5L382.8,821.9L390.4,821.2L397.9,818.7L405.5,815.0"/>
<path d="M103.2,854.3L110.8,858.2L118.3,860.7L125.9,860.7L133.4,860.1L141.0,860.0L148.5,861.6L156.1,864.2L163.7,866.7L171.2,869.1L178.8,871.7L186.3,874.4L193.9,877.5L201.4,881.9L209.0,887.4L216.6,893.4L224.1,899.8L231.7,904.5L239.2,908.0L246.8,910.4L254.4,911.1L261.9,910.4L269.5,907.6L277.0,903.6L284.6,898.4L292.1,892.1L299.7,886.0L307.3,880.3L314.8,876.4L322.4,873.4L329.9,870.7L337.5,868.1L345.0,865.7L352.6,863.6L360.2,862.0L367.7,860.7L375.3,859.8L382.8,859.7L390.4,859.4L397.9,857.1L405.5,853.3"/>
<path d="M103.2,893.1L110.8,897.0L118.3,899.5L125.9,899.5L133.4,898.9L141.0,898.8L148.5,900.4L156.1,903.1L163.7,905.5L171.2,907.6L178.8,909.9L186.3,912.8L193.9,916.3L201.4,920.8L209.0,926.2L216.6,932.0L224.1,937.8L231.7,942.0L239.2,944.9L246.8,946.7L254.4,947.0L261.9,946.7L269.5,944.6L277.0,941.1L284.6,936.5L292.1,930.7L299.7,924.8L307.3,919.2L314.8,915.3L322.4,912.5L329.9,909.9L337.5,907.5L345.0,905.3L352.6,903.4L360.2,901.8L367.7,900.5L375.3,899.6L382.8,899.5L390.4,899.1L397.9,896.8L405.5,893.1"/>
<path d="M103.2,935.8L110.8,939.4L118.3,941.6L125.9,941.6L133.4,940.9L141.0,940.9L148.5,942.7L156.1,945.5L163.7,948.3L171.2,951.0L178.8,954.2L186.3,958.1L193.9,962.6L201.4,967.6L209.0,972.9L216.6,978.2L224.1,983.4L231.7,986.7L239.2,988.5L246.8,989.8L254.4,990.1L261.9,989.8L269.5,988.3L277.0,986.2L284.6,982.3L292.1,976.3L299.7,970.5L307.3,964.9L314.8,960.5L322.4,956.7L329.9,953.2L337.5,949.8L345.0,946.6L352.6,944.1L360.2,942.4L367.7,941.3L375.3,940.7L382.8,940.7L390.4,940.4L397.9,938.7L405.5,935.8"/>
<path d="M103.2,981.8L110.8,985.8L118.3,987.1L125.9,986.9L133.4,986.8L141.0,987.8L148.5,990.3L156.1,993.6L163.7,997.2L171.2,1001.1L178.8,1005.6L186.3,1011.2L193.9,1017.5L201.4,1024.4L209.0,1031.7L216.6,1037.4L224.1,1041.8L231.7,1044.6L239.2,1045.9L246.8,1046.8L254.4,1047.0L261.9,1046.8L269.5,1045.8L277.0,1044.1L284.6,1040.7L292.1,1035.5L299.7,1029.3L307.3,1022.0L314.8,1015.6L322.4,1009.8L329.9,1004.6L337.5,1000.1L345.0,996.0L352.6,992.4L360.2,989.6L367.7,988.4L375.3,988.0L382.8,987.8L390.4,987.0L397.9,985.2L405.5,981.4"/>
<path d="M103.1,1035.9L110.8,1039.6L118.3,1041.4L125.9,1042.2L133.4,1043.2L141.0,1045.0L148.5,1047.5L156.1,1050.7L163.7,1054.3L171.2,1058.1L178.8,1062.1L186.3,1066.6L193.9,1072.3L201.4,1079.3L207.1,1085.9"/>
<path d="M301.0,1085.9L307.3,1077.8L314.8,1071.1L322.4,1066.2L329.9,1061.9L337.5,1057.4L345.0,1053.3L352.6,1050.0L360.2,1047.1L367.7,1044.4L375.3,1042.4L382.8,1041.8L390.4,1041.0L397.9,1038.6L405.3,1035.9"/>
</g></g>
<g clip-path="url(#cb)"><g mask="url(#mb)" fill="none" stroke="#0a0a0a" stroke-width="2.3" stroke-linejoin="round">
<path d="M474.1,190.7L475.5,190.8L483.0,191.6L490.6,192.4L498.1,193.0L505.7,193.6L513.2,194.1L520.8,194.5L528.3,194.6L535.9,194.2L543.4,193.9L551.0,193.6L558.5,193.4L566.1,194.2L573.6,195.7L581.2,197.1L588.7,198.4L596.3,199.5L603.9,200.0L611.4,199.5L619.0,198.2L626.5,196.9L634.1,195.3L641.6,193.6L649.2,192.9L656.7,192.9L664.3,193.2L671.8,193.8L679.4,194.6L686.9,195.1L694.5,195.0L702.0,194.5L709.6,193.7L717.1,192.6L724.7,191.5L730.3,190.7"/>
<path d="M452.8,209.1L460.4,212.2L467.9,214.8L475.5,216.7L483.0,218.1L490.6,219.2L498.1,220.2L505.7,220.7L513.2,220.3L520.8,219.0L528.3,217.9L535.9,216.8L543.4,215.7L551.0,214.4L558.5,213.3L566.1,212.8L573.6,213.0L581.2,213.4L588.7,214.1L596.3,214.9L603.9,215.3L611.4,215.1L619.0,214.5L626.5,213.9L634.1,213.3L641.6,212.9L649.2,213.4L656.7,214.6L664.3,215.9L671.8,216.9L679.4,217.9L686.9,218.8L694.5,219.4L702.0,219.8L709.6,219.7L717.1,219.1L724.7,218.1L732.2,216.7L739.8,214.6L747.3,211.9L754.9,208.7"/>
<path d="M452.8,257.6L460.4,261.0L467.9,263.7L475.5,265.1L483.0,265.8L490.6,266.0L498.1,265.9L505.7,265.2L513.2,263.8L520.8,261.7L528.3,259.5L535.9,257.1L543.4,254.1L551.0,249.9L558.5,245.5L566.1,241.9L573.6,238.8L581.2,236.2L588.7,234.7L596.3,234.0L603.9,233.8L611.4,234.1L619.0,235.3L626.5,237.2L634.1,240.3L641.6,244.3L649.2,248.2L656.7,252.1L664.3,255.7L671.8,258.5L679.4,260.7L686.9,262.5L694.5,264.0L702.0,265.0L709.6,265.7L717.1,266.0L724.7,266.0L732.2,265.8L739.8,264.6L747.3,261.7L754.9,257.2"/>
<path d="M452.8,366.3L460.4,369.4L467.9,372.2L475.5,373.0L483.0,371.9L490.6,369.9L498.1,366.6L505.7,362.7L513.2,358.4L520.8,353.1L528.3,345.6L535.9,335.1L543.4,323.2L551.0,309.4L558.5,294.3L566.1,279.6L573.6,268.3L581.2,260.6L588.7,256.6L596.3,254.5L603.9,253.7L611.4,254.6L619.0,257.2L626.5,262.5L634.1,271.6L641.6,283.9L649.2,297.8L656.7,311.3L664.3,323.6L671.8,332.4L679.4,343.7L686.9,352.1L694.5,358.5L702.0,363.7L709.6,367.4L717.1,370.1L724.7,372.3L732.2,373.1L739.8,371.5L747.3,368.8L754.9,365.3"/>
<path d="M452.8,489.3L460.4,492.0L467.9,494.1L475.5,494.6L483.0,494.1L490.6,492.9L498.1,489.9L505.7,483.4L513.2,474.7L520.8,464.7L528.3,453.6L535.9,440.6L543.4,425.1L551.0,406.2L558.5,383.3L566.1,356.9L573.6,328.9L581.2,304.1L588.7,289.3L596.3,281.2L603.9,277.0L611.4,282.3L619.0,292.0L626.5,309.5L634.1,334.8L641.6,360.8L649.2,384.5L656.7,406.0L664.3,424.3L671.8,440.9L679.4,455.3L686.9,467.3L694.5,476.9L702.0,484.3L709.6,489.5L717.1,492.7L724.7,494.0L732.2,493.8L739.8,492.5L747.3,490.5L754.9,488.3"/>
<path d="M452.8,570.8L460.4,572.5L467.9,573.7L475.5,573.6L483.0,572.6L490.6,570.9L498.1,567.4L505.7,561.2L513.2,552.6L520.8,542.7L528.3,531.5L535.9,518.9L543.4,504.1L551.0,486.8L558.5,466.5L566.1,443.5L573.6,418.5L581.2,390.3L588.7,364.0L596.3,345.8L603.9,338.2L611.4,345.4L619.0,362.6L626.5,388.3L634.1,416.8L641.6,441.2L649.2,463.6L656.7,483.9L664.3,502.3L671.8,518.9L679.4,533.2L686.9,544.8L694.5,554.2L702.0,561.6L709.6,567.0L717.1,570.7L724.7,572.7L732.2,573.2L739.8,572.7L747.3,571.5L754.9,569.8"/>
<path d="M452.8,627.1L460.4,628.9L467.9,630.0L475.5,629.1L483.0,627.2L490.6,624.8L498.1,620.8L505.7,614.7L513.2,606.8L520.8,597.5L528.3,586.8L535.9,574.0L543.4,558.9L551.0,541.7L558.5,522.2L566.1,500.4L573.6,476.3L581.2,449.0L588.7,425.1L596.3,410.5L603.9,405.8L611.4,411.2L619.0,424.6L626.5,446.9L634.1,474.5L641.6,499.1L649.2,520.8L656.7,540.6L664.3,558.6L671.8,575.2L679.4,589.5L686.9,601.0L694.5,610.3L702.0,617.6L709.6,622.8L717.1,626.4L724.7,628.6L732.2,629.5L739.8,629.4L747.3,628.6L754.9,627.1"/>
<path d="M452.8,671.4L460.4,673.3L467.9,674.3L475.5,673.4L483.0,671.4L490.6,669.0L498.1,665.2L505.7,659.6L513.2,652.4L520.8,644.2L528.3,634.8L535.9,623.5L543.4,608.4L551.0,590.1L558.5,569.6L566.1,546.9L573.6,522.0L581.2,494.2L588.7,470.6L596.3,455.6L603.9,450.5L611.4,456.5L619.0,472.0L626.5,497.4L634.1,526.8L641.6,551.1L649.2,572.5L656.7,591.5L664.3,608.2L671.8,623.0L679.4,635.7L686.9,646.5L694.5,655.3L702.0,662.2L709.6,667.0L717.1,670.4L724.7,672.3L732.2,673.0L739.8,672.7L747.3,671.5L754.9,669.5"/>
<path d="M452.8,716.1L460.4,716.5L467.9,716.5L475.5,715.2L483.0,713.2L490.6,710.9L498.1,707.5L505.7,702.5L513.2,696.1L520.8,688.4L528.3,679.2L535.9,667.4L543.4,652.8L551.0,636.5L558.5,618.9L566.1,597.8L573.6,574.0L581.2,545.4L588.7,519.5L596.3,501.7L603.9,495.1L611.4,501.9L619.0,518.9L626.5,545.4L634.1,574.7L641.6,597.7L649.2,617.1L656.7,634.8L664.3,651.3L671.8,665.9L679.4,678.9L686.9,689.8L694.5,698.3L702.0,705.0L709.6,709.8L717.1,713.2L724.7,715.2L732.2,716.2L739.8,716.4L747.3,716.0L754.9,715.1"/>
<path d="M452.8,757.8L460.4,757.5L467.9,756.9L475.5,755.5L483.0,753.5L490.6,751.0L498.1,747.4L505.7,741.7L513.2,734.8L520.8,727.1L528.3,718.6L535.9,708.0L543.4,694.7L551.0,679.2L558.5,661.6L566.1,641.9L573.6,620.5L581.2,594.7L588.7,569.4L596.3,551.2L603.9,544.0L611.4,551.3L619.0,569.0L626.5,594.8L634.1,621.1L641.6,642.7L649.2,662.4L656.7,680.2L664.3,696.2L671.8,709.9L679.4,721.6L686.9,731.3L694.5,739.0L702.0,745.2L709.6,749.9L717.1,753.3L724.7,755.7L732.2,757.0L739.8,757.7L747.3,757.7L754.9,757.4"/>
<path d="M452.8,797.6L460.4,796.8L467.9,795.7L475.5,793.9L483.0,791.7L490.6,789.0L498.1,785.6L505.7,779.6L513.2,773.0L520.8,765.8L528.3,757.8L535.9,747.8L543.4,735.5L551.0,721.1L558.5,704.3L566.1,684.9L573.6,662.8L581.2,636.2L588.7,612.6L596.3,597.3L603.9,591.2L611.4,597.6L619.0,612.5L626.5,635.8L634.1,665.4L641.6,691.2L649.2,711.4L656.7,728.0L664.3,741.6L671.8,753.1L679.4,763.0L686.9,771.3L694.5,778.3L702.0,784.1L709.6,788.7L717.1,792.2L724.7,794.7L732.2,796.3L739.8,797.3L747.3,797.9L754.9,798.1"/>
<path d="M452.8,838.3L460.4,837.5L467.9,836.4L475.5,834.8L483.0,832.7L490.6,829.9L498.1,825.9L505.7,820.8L513.2,814.7L520.8,807.6L528.3,799.0L535.9,788.3L543.4,776.4L551.0,763.0L558.5,747.7L566.1,729.9L573.6,709.5L581.2,684.7L588.7,661.6L596.3,645.9L603.9,640.4L611.4,646.6L619.0,662.8L626.5,687.8L634.1,714.8L641.6,736.3L649.2,754.5L656.7,769.7L664.3,782.7L671.8,794.1L679.4,803.8L686.9,812.1L694.5,819.1L702.0,824.9L709.6,829.5L717.1,833.1L724.7,835.6L732.2,837.4L739.8,838.6L747.3,839.3L754.9,839.7"/>
<path d="M452.8,883.8L460.4,881.3L467.9,879.0L475.5,877.4L483.0,875.8L490.6,873.4L498.1,869.5L505.7,864.2L513.2,857.5L520.8,849.8L528.3,841.6L535.9,832.7L543.4,822.1L551.0,810.0L558.5,795.4L566.1,778.7L573.6,760.0L581.2,736.7L588.7,715.0L596.3,700.1L603.9,694.8L611.4,701.7L619.0,718.5L626.5,742.9L634.1,765.9L641.6,782.6L649.2,797.8L656.7,811.8L664.3,824.2L671.8,834.9L679.4,844.2L686.9,852.2L694.5,859.2L702.0,865.3L709.6,870.4L717.1,874.5L724.7,877.6L732.2,880.0L739.8,881.8L747.3,883.3L754.9,884.7"/>
<path d="M452.8,932.9L460.4,929.8L467.9,927.1L475.5,925.7L483.0,924.6L490.6,922.8L498.1,919.8L505.7,915.5L513.2,909.7L520.8,902.7L528.3,894.2L535.9,883.7L543.4,871.9L551.0,859.0L558.5,844.9L566.1,829.9L573.6,812.3L581.2,791.3L588.7,771.8L596.3,758.0L603.9,752.6L611.4,759.0L619.0,775.0L626.5,797.9L634.1,819.0L641.6,834.0L649.2,847.5L656.7,859.7L664.3,871.0L671.8,881.7L679.4,891.5L686.9,900.3L694.5,907.6L702.0,913.6L709.6,918.4L717.1,922.3L724.7,925.3L732.2,927.7L739.8,929.9L747.3,931.9L754.9,934.0"/>
<path d="M452.8,997.9L460.4,992.7L467.9,989.7L475.5,987.5L483.0,985.3L490.6,982.6L498.1,978.8L505.7,973.4L513.2,966.8L520.8,959.3L528.3,950.6L535.9,940.4L543.4,928.8L551.0,916.0L558.5,901.8L566.1,886.4L573.6,870.2L581.2,852.0L588.7,836.2L596.3,825.1L603.9,820.3L611.4,826.0L619.0,837.4L626.5,852.7L634.1,871.9L641.6,890.5L649.2,906.4L656.7,919.5L664.3,931.4L671.8,942.1L679.4,951.4L686.9,959.7L694.5,966.8L702.0,972.7L709.6,977.4L717.1,981.2L724.7,984.3L732.2,987.2L739.8,990.5L747.3,994.1L754.9,998.4"/>
<path d="M452.8,1084.9L460.4,1079.7L467.9,1075.7L475.5,1072.5L483.0,1069.5L490.6,1066.6L498.1,1063.2L505.7,1059.1L513.2,1054.0L520.8,1047.9L528.3,1040.9L535.9,1032.9L543.4,1023.5L551.0,1013.2L558.5,1001.4L566.1,988.1L573.6,973.3L581.2,954.4L588.7,934.9L596.3,920.4L603.9,914.4L611.4,920.7L619.0,935.0L626.5,954.1L634.1,972.5L641.6,986.8L649.2,999.7L656.7,1011.4L664.3,1021.9L671.8,1031.7L679.4,1040.6L686.9,1048.6L694.5,1055.3L702.0,1060.9L709.6,1065.3L717.1,1068.7L724.7,1071.6L732.2,1074.5L739.8,1077.5L747.3,1081.0L754.7,1085.3"/>
</g></g>
<line x1="178.7" y1="190.6" x2="178.7" y2="1085.8" stroke="#0a0a0a" stroke-width="2.0" stroke-dasharray="7.4 8.1"/>
<line x1="329.9" y1="190.6" x2="329.9" y2="1085.8" stroke="#0a0a0a" stroke-width="2.0" stroke-dasharray="7.4 8.1"/>
<line x1="528.2" y1="190.6" x2="528.2" y2="1085.8" stroke="#0a0a0a" stroke-width="2.0" stroke-dasharray="7.4 8.1"/>
<line x1="679.2" y1="190.6" x2="679.2" y2="1085.8" stroke="#0a0a0a" stroke-width="2.0" stroke-dasharray="7.4 8.1"/>
<text x="170.7" y="221.6" font-size="18.8" fill="#000" stroke="#000" stroke-width="0.25" text-anchor="middle" transform="rotate(-8 170.7 214.9)">21</text>
<text x="174.2" y="266.3" font-size="18.8" fill="#000" stroke="#000" stroke-width="0.25" text-anchor="middle" transform="rotate(-4 174.2 259.6)">20</text>
<text x="176.1" y="331.3" font-size="18.8" fill="#000" stroke="#000" stroke-width="0.25" text-anchor="middle" transform="rotate(4 176.1 324.6)">19</text>
<text x="132.8" y="481.4" font-size="18.8" fill="#000" stroke="#000" stroke-width="0.25" text-anchor="middle" transform="rotate(-20 132.8 474.7)">18</text>
<text x="356.9" y="477.2" font-size="18.8" fill="#000" stroke="#000" stroke-width="0.25" text-anchor="middle" transform="rotate(11 356.9 470.5)">18</text>
<text x="129.0" y="593.4" font-size="18.8" fill="#000" stroke="#000" stroke-width="0.25" text-anchor="middle" transform="rotate(-10 129.0 586.7)">17</text>
<text x="370.6" y="592.0" font-size="18.8" fill="#000" stroke="#000" stroke-width="0.25" text-anchor="middle" transform="rotate(10 370.6 585.3)">17</text>
<text x="369.6" y="655.8" font-size="18.8" fill="#000" stroke="#000" stroke-width="0.25" text-anchor="middle" transform="rotate(5 369.6 649.1)">16</text>
<text x="369.6" y="705.9" font-size="18.8" fill="#000" stroke="#000" stroke-width="0.25" text-anchor="middle" transform="rotate(3 369.6 699.2)">15</text>
<text x="179.4" y="756.7" font-size="18.8" fill="#000" stroke="#000" stroke-width="0.25" text-anchor="middle" transform="rotate(14 179.4 750.0)">14</text>
<text x="178.4" y="798.4" font-size="18.8" fill="#000" stroke="#000" stroke-width="0.25" text-anchor="middle" transform="rotate(14 178.4 791.7)">13</text>
<text x="178.0" y="837.3" font-size="18.8" fill="#000" stroke="#000" stroke-width="0.25" text-anchor="middle" transform="rotate(14 178.0 830.6)">12</text>
<text x="177.5" y="876.5" font-size="18.8" fill="#000" stroke="#000" stroke-width="0.25" text-anchor="middle" transform="rotate(16 177.5 869.8)">11</text>
<text x="178.0" y="915.3" font-size="18.8" fill="#000" stroke="#000" stroke-width="0.25" text-anchor="middle" transform="rotate(16 178.0 908.6)">10</text>
<text x="381.2" y="946.3" font-size="18.8" fill="#000" stroke="#000" stroke-width="0.25" text-anchor="middle" transform="rotate(-5 381.2 939.6)">9</text>
<text x="122.2" y="992.9" font-size="18.8" fill="#000" stroke="#000" stroke-width="0.25" text-anchor="middle" transform="rotate(5 122.2 986.2)">8</text>
<text x="374.4" y="993.5" font-size="18.8" fill="#000" stroke="#000" stroke-width="0.25" text-anchor="middle" transform="rotate(-8 374.4 986.8)">8</text>
<text x="126.0" y="1047.3" font-size="18.8" fill="#000" stroke="#000" stroke-width="0.25" text-anchor="middle" transform="rotate(10 126.0 1040.6)">7</text>
<text x="360.5" y="1051.7" font-size="18.8" fill="#000" stroke="#000" stroke-width="0.25" text-anchor="middle" transform="rotate(-15 360.5 1045.0)">7</text>
<text x="522.6" y="201.3" font-size="18.8" fill="#000" stroke="#000" stroke-width="0.25" text-anchor="middle" transform="rotate(0 522.6 194.6)">21</text>
<text x="523.6" y="223.6" font-size="18.8" fill="#000" stroke="#000" stroke-width="0.25" text-anchor="middle" transform="rotate(-5 523.6 216.9)">20</text>
<text x="525.0" y="266.3" font-size="18.8" fill="#000" stroke="#000" stroke-width="0.25" text-anchor="middle" transform="rotate(-15 525.0 259.6)">19</text>
<text x="490.6" y="373.0" font-size="18.8" fill="#000" stroke="#000" stroke-width="0.25" text-anchor="middle" transform="rotate(-25 490.6 366.3)">18</text>
<text x="679.8" y="347.8" font-size="18.8" fill="#000" stroke="#000" stroke-width="0.25" text-anchor="middle" transform="rotate(50 679.8 341.1)">18</text>
<text x="635.2" y="340.0" font-size="18.8" fill="#000" stroke="#000" stroke-width="0.25" text-anchor="middle" transform="rotate(72 635.2 333.3)">17</text>
<text x="628.4" y="397.3" font-size="18.8" fill="#000" stroke="#000" stroke-width="0.25" text-anchor="middle" transform="rotate(70 628.4 390.6)">16</text>
<text x="513.9" y="480.4" font-size="18.8" fill="#000" stroke="#000" stroke-width="0.25" text-anchor="middle" transform="rotate(-55 513.9 473.7)">17</text>
<text x="517.8" y="553.2" font-size="18.8" fill="#000" stroke="#000" stroke-width="0.25" text-anchor="middle" transform="rotate(-55 517.8 546.5)">16</text>
<text x="515.8" y="610.5" font-size="18.8" fill="#000" stroke="#000" stroke-width="0.25" text-anchor="middle" transform="rotate(-50 515.8 603.8)">15</text>
<text x="633.2" y="471.7" font-size="18.8" fill="#000" stroke="#000" stroke-width="0.25" text-anchor="middle" transform="rotate(72 633.2 465.0)">15</text>
<text x="630.3" y="515.4" font-size="18.8" fill="#000" stroke="#000" stroke-width="0.25" text-anchor="middle" transform="rotate(72 630.3 508.7)">14</text>
<text x="629.4" y="562.9" font-size="18.8" fill="#000" stroke="#000" stroke-width="0.25" text-anchor="middle" transform="rotate(72 629.4 556.2)">13</text>
<text x="630.3" y="619.2" font-size="18.8" fill="#000" stroke="#000" stroke-width="0.25" text-anchor="middle" transform="rotate(72 630.3 612.5)">12</text>
<text x="515.8" y="655.8" font-size="18.8" fill="#000" stroke="#000" stroke-width="0.25" text-anchor="middle" transform="rotate(-50 515.8 649.1)">14</text>
<text x="515.8" y="700.4" font-size="18.8" fill="#000" stroke="#000" stroke-width="0.25" text-anchor="middle" transform="rotate(-50 515.8 693.7)">13</text>
<text x="513.9" y="741.2" font-size="18.8" fill="#000" stroke="#000" stroke-width="0.25" text-anchor="middle" transform="rotate(-48 513.9 734.5)">12</text>
<text x="511.0" y="782.9" font-size="18.8" fill="#000" stroke="#000" stroke-width="0.25" text-anchor="middle" transform="rotate(-45 511.0 776.2)">11</text>
<text x="510.0" y="823.7" font-size="18.8" fill="#000" stroke="#000" stroke-width="0.25" text-anchor="middle" transform="rotate(-42 510.0 817.0)">10</text>
<text x="632.9" y="667.5" font-size="18.8" fill="#000" stroke="#000" stroke-width="0.25" text-anchor="middle" transform="rotate(72 632.9 660.8)">11</text>
<text x="634.2" y="720.8" font-size="18.8" fill="#000" stroke="#000" stroke-width="0.25" text-anchor="middle" transform="rotate(70 634.2 714.1)">10</text>
<text x="636.2" y="777.1" font-size="18.8" fill="#000" stroke="#000" stroke-width="0.25" text-anchor="middle" transform="rotate(68 636.2 770.4)">9</text>
<text x="639.1" y="836.3" font-size="18.8" fill="#000" stroke="#000" stroke-width="0.25" text-anchor="middle" transform="rotate(65 639.1 829.6)">8</text>
<text x="502.2" y="875.5" font-size="18.8" fill="#000" stroke="#000" stroke-width="0.25" text-anchor="middle" transform="rotate(-35 502.2 868.8)">9</text>
<text x="500.3" y="925.0" font-size="18.8" fill="#000" stroke="#000" stroke-width="0.25" text-anchor="middle" transform="rotate(-25 500.3 918.3)">8</text>
<text x="495.8" y="987.1" font-size="18.8" fill="#000" stroke="#000" stroke-width="0.25" text-anchor="middle" transform="rotate(-20 495.8 980.4)">7</text>
<text x="644.9" y="906.6" font-size="18.8" fill="#000" stroke="#000" stroke-width="0.25" text-anchor="middle" transform="rotate(60 644.9 899.9)">7</text>
<text x="649.7" y="1004.6" font-size="18.8" fill="#000" stroke="#000" stroke-width="0.25" text-anchor="middle" transform="rotate(55 649.7 997.9)">6</text>
<text x="493.5" y="1070.7" font-size="18.8" fill="#000" stroke="#000" stroke-width="0.25" text-anchor="middle" transform="rotate(-25 493.5 1064.0)">6</text>
<path d="M103.2,233.2h8.5M405.5,233.2h-8.5M103.2,318.5h8.5M405.5,318.5h-8.5M103.2,403.7h8.5M405.5,403.7h-8.5M103.2,489.0h8.5M405.5,489.0h-8.5M103.2,574.3h8.5M405.5,574.3h-8.5M103.2,659.5h8.5M405.5,659.5h-8.5M103.2,744.8h8.5M405.5,744.8h-8.5M103.2,830.0h8.5M405.5,830.0h-8.5M103.2,915.3h8.5M405.5,915.3h-8.5M103.2,1000.5h8.5M405.5,1000.5h-8.5M178.8,190.6v8.5M178.8,1085.8v-8.5M254.4,190.6v8.5M254.4,1085.8v-8.5M329.9,190.6v8.5M329.9,1085.8v-8.5" stroke="#0a0a0a" stroke-width="1.9" fill="none"/>
<path d="M452.8,233.2h8.5M754.9,233.2h-8.5M452.8,318.5h8.5M754.9,318.5h-8.5M452.8,403.7h8.5M754.9,403.7h-8.5M452.8,489.0h8.5M754.9,489.0h-8.5M452.8,574.3h8.5M754.9,574.3h-8.5M452.8,659.5h8.5M754.9,659.5h-8.5M452.8,744.8h8.5M754.9,744.8h-8.5M452.8,830.0h8.5M754.9,830.0h-8.5M452.8,915.3h8.5M754.9,915.3h-8.5M452.8,1000.5h8.5M754.9,1000.5h-8.5M528.3,190.6v8.5M528.3,1085.8v-8.5M603.9,190.6v8.5M603.9,1085.8v-8.5M679.4,190.6v8.5M679.4,1085.8v-8.5" stroke="#0a0a0a" stroke-width="1.9" fill="none"/>
<rect x="103.2" y="190.6" width="302.3" height="895.2" fill="none" stroke="#0a0a0a" stroke-width="2.0"/>
<rect x="452.8" y="190.6" width="302.1" height="895.2" fill="none" stroke="#0a0a0a" stroke-width="2.0"/>
<text x="94.0" y="197.8" font-size="23.5" text-anchor="end">50</text>
<text x="94.0" y="240.4" font-size="23.5" text-anchor="end">100</text>
<text x="94.0" y="325.7" font-size="23.5" text-anchor="end">200</text>
<text x="94.0" y="410.9" font-size="23.5" text-anchor="end">300</text>
<text x="94.0" y="496.2" font-size="23.5" text-anchor="end">400</text>
<text x="94.0" y="581.5" font-size="23.5" text-anchor="end">500</text>
<text x="94.0" y="666.7" font-size="23.5" text-anchor="end">600</text>
<text x="94.0" y="752.0" font-size="23.5" text-anchor="end">700</text>
<text x="94.0" y="837.2" font-size="23.5" text-anchor="end">800</text>
<text x="94.0" y="922.5" font-size="23.5" text-anchor="end">900</text>
<text x="94.0" y="1007.7" font-size="23.5" text-anchor="end">1000</text>
<text x="94.0" y="1093.0" font-size="23.5" text-anchor="end">1100</text>
<text x="103.7" y="1113.2" font-size="23.5" text-anchor="middle">-2</text>
<text x="453.3" y="1113.2" font-size="23.5" text-anchor="middle">-2</text>
<text x="177.5" y="1113.2" font-size="23.5" text-anchor="middle">-1</text>
<text x="527.0" y="1113.2" font-size="23.5" text-anchor="middle">-1</text>
<text x="254.4" y="1113.2" font-size="23.5" text-anchor="middle">0</text>
<text x="603.9" y="1113.2" font-size="23.5" text-anchor="middle">0</text>
<text x="329.9" y="1113.2" font-size="23.5" text-anchor="middle">1</text>
<text x="679.4" y="1113.2" font-size="23.5" text-anchor="middle">1</text>
<text x="405.5" y="1113.2" font-size="23.5" text-anchor="middle">2</text>
<text x="754.9" y="1113.2" font-size="23.5" text-anchor="middle">2</text>
<text x="256.0" y="1150.3" font-size="33" text-anchor="middle">Normalized Distance</text>
<text x="606.5" y="1150.3" font-size="33" text-anchor="middle">Normalized Distance</text>
<text x="232.9" y="1190.3" font-size="32">(L<tspan font-size="22" dy="11">s</tspan><tspan dy="-11">)</tspan></text>
<text x="583.4" y="1190.3" font-size="32">(L<tspan font-size="22" dy="11">s</tspan><tspan dy="-11">)</tspan></text>
<text font-size="33" text-anchor="middle" transform="translate(27.9 617.8) rotate(-90)">Depth (m)</text>
<rect x="808.8" y="190.4" width="32.7" height="895.6" fill="url(#cbar)" stroke="#0a0a0a" stroke-width="1.3"/>
<path d="M808.8,414.3h9M808.8,638.2h9M808.8,862.1h9" stroke="#0a0a0a" stroke-width="1.6" fill="none"/>
<text x="800.8" y="197.7" font-size="21.5" text-anchor="end">25</text>
<text x="800.8" y="421.6" font-size="21.5" text-anchor="end">20</text>
<text x="800.8" y="645.5" font-size="21.5" text-anchor="end">15</text>
<text x="800.8" y="869.4" font-size="21.5" text-anchor="end">10</text>
<text x="800.8" y="1093.3" font-size="21.5" text-anchor="end">5</text>
<text x="788.5" y="1127.5" font-size="25">°</text>
<text x="806.3" y="1139.8" font-size="29.5">C</text>
<rect x="936.7" y="192.2" width="309.6" height="898.1" fill="none" stroke="#0a0a0a" stroke-width="1.8"/>
<path d="M936.7,235.0h8.5M1246.3,235.0h-8.5M936.7,320.5h8.5M1246.3,320.5h-8.5M936.7,406.0h8.5M1246.3,406.0h-8.5M936.7,491.6h8.5M1246.3,491.6h-8.5M936.7,577.1h8.5M1246.3,577.1h-8.5M936.7,662.6h8.5M1246.3,662.6h-8.5M936.7,748.2h8.5M1246.3,748.2h-8.5M936.7,833.7h8.5M1246.3,833.7h-8.5M936.7,919.2h8.5M1246.3,919.2h-8.5M936.7,1004.8h8.5M1246.3,1004.8h-8.5M1060.6,192.2v8.5M1060.6,1090.3v-8.5M1184.2,192.2v8.5M1184.2,1090.3v-8.5" stroke="#0a0a0a" stroke-width="1.9" fill="none"/>
<rect x="935.7" y="193.2" width="35.8" height="40" fill="#fd0000"/>
<rect x="935.7" y="201.2" width="4.7" height="24.5" fill="#0000fb"/>
<rect x="935.7" y="257.5" width="27.1" height="40" fill="#fd0000"/>
<rect x="935.7" y="265.5" width="5.7" height="24.5" fill="#0000fb"/>
<rect x="935.7" y="321.7" width="33.3" height="40" fill="#fd0000"/>
<rect x="935.7" y="329.7" width="6.2" height="24.5" fill="#0000fb"/>
<rect x="935.7" y="386.0" width="61.2" height="40" fill="#fd0000"/>
<rect x="935.7" y="394.0" width="5.8" height="24.5" fill="#0000fb"/>
<rect x="935.7" y="450.3" width="112.7" height="40" fill="#fd0000"/>
<rect x="935.7" y="458.3" width="17.9" height="24.5" fill="#0000fb"/>
<rect x="935.7" y="514.5" width="160.2" height="40" fill="#fd0000"/>
<rect x="935.7" y="522.5" width="40.6" height="24.5" fill="#0000fb"/>
<rect x="935.7" y="578.8" width="77.4" height="40" fill="#fd0000"/>
<rect x="935.7" y="586.8" width="25.9" height="24.5" fill="#0000fb"/>
<rect x="935.7" y="643.1" width="58.2" height="40" fill="#fd0000"/>
<rect x="935.7" y="651.1" width="23.1" height="24.5" fill="#0000fb"/>
<rect x="935.7" y="707.4" width="8.2" height="40" fill="#fd0000"/>
<rect x="935.7" y="715.4" width="6.5" height="24.5" fill="#0000fb"/>
<rect x="935.7" y="771.6" width="3.2" height="40" fill="#fd0000"/>
<rect x="935.7" y="779.6" width="4.0" height="24.5" fill="#0000fb"/>
<rect x="935.7" y="835.9" width="4.7" height="40" fill="#fd0000"/>
<rect x="935.7" y="843.9" width="0.9" height="24.5" fill="#0000fb"/>
<rect x="935.7" y="900.2" width="2.5" height="40" fill="#fd0000"/>
<rect x="935.7" y="908.2" width="0.9" height="24.5" fill="#0000fb"/>
<rect x="935.7" y="964.4" width="0.9" height="40" fill="#fd0000"/>
<rect x="935.7" y="972.4" width="0.9" height="24.5" fill="#0000fb"/>
<rect x="935.7" y="1028.7" width="0.9" height="40" fill="#fd0000"/>
<rect x="935.7" y="1036.7" width="0.9" height="24.5" fill="#0000fb"/>
<rect x="1335.3" y="192.2" width="309.7" height="898.0" fill="none" stroke="#0a0a0a" stroke-width="1.8"/>
<path d="M1335.3,235.0h8.5M1645.0,235.0h-8.5M1335.3,320.5h8.5M1645.0,320.5h-8.5M1335.3,406.0h8.5M1645.0,406.0h-8.5M1335.3,491.5h8.5M1645.0,491.5h-8.5M1335.3,577.1h8.5M1645.0,577.1h-8.5M1335.3,662.6h8.5M1645.0,662.6h-8.5M1335.3,748.1h8.5M1645.0,748.1h-8.5M1335.3,833.6h8.5M1645.0,833.6h-8.5M1335.3,919.2h8.5M1645.0,919.2h-8.5M1335.3,1004.7h8.5M1645.0,1004.7h-8.5M1458.6,192.2v8.5M1458.6,1090.2v-8.5M1582.8,192.2v8.5M1582.8,1090.2v-8.5" stroke="#0a0a0a" stroke-width="1.9" fill="none"/>
<rect x="1334.3" y="193.2" width="119.7" height="40" fill="#fd0000"/>
<rect x="1334.3" y="201.2" width="19.8" height="24.5" fill="#0000fb"/>
<rect x="1334.3" y="257.5" width="37.9" height="40" fill="#fd0000"/>
<rect x="1334.3" y="265.5" width="12.0" height="24.5" fill="#0000fb"/>
<rect x="1334.3" y="321.7" width="25.7" height="40" fill="#fd0000"/>
<rect x="1334.3" y="329.7" width="17.8" height="24.5" fill="#0000fb"/>
<rect x="1334.3" y="386.0" width="46.9" height="40" fill="#fd0000"/>
<rect x="1334.3" y="394.0" width="16.5" height="24.5" fill="#0000fb"/>
<rect x="1334.3" y="450.3" width="85.7" height="40" fill="#fd0000"/>
<rect x="1334.3" y="458.3" width="21.5" height="24.5" fill="#0000fb"/>
<rect x="1334.3" y="514.5" width="96.6" height="40" fill="#fd0000"/>
<rect x="1334.3" y="522.5" width="25.5" height="24.5" fill="#0000fb"/>
<rect x="1334.3" y="578.8" width="55.3" height="40" fill="#fd0000"/>
<rect x="1334.3" y="586.8" width="13.3" height="24.5" fill="#0000fb"/>
<rect x="1334.3" y="643.1" width="12.3" height="40" fill="#fd0000"/>
<rect x="1334.3" y="651.1" width="8.3" height="24.5" fill="#0000fb"/>
<rect x="1334.3" y="707.4" width="14.8" height="40" fill="#fd0000"/>
<rect x="1334.3" y="715.4" width="4.3" height="24.5" fill="#0000fb"/>
<rect x="1334.3" y="771.6" width="0.9" height="40" fill="#fd0000"/>
<rect x="1334.3" y="779.6" width="0.9" height="24.5" fill="#0000fb"/>
<rect x="1334.3" y="835.9" width="3.3" height="40" fill="#fd0000"/>
<rect x="1334.3" y="843.9" width="0.9" height="24.5" fill="#0000fb"/>
<rect x="1334.3" y="900.2" width="0.9" height="40" fill="#fd0000"/>
<rect x="1334.3" y="908.2" width="0.9" height="24.5" fill="#0000fb"/>
<rect x="1334.3" y="964.4" width="0.9" height="40" fill="#fd0000"/>
<rect x="1334.3" y="972.4" width="0.9" height="24.5" fill="#0000fb"/>
<rect x="1334.3" y="1028.7" width="0.9" height="40" fill="#fd0000"/>
<rect x="1334.3" y="1036.7" width="0.9" height="24.5" fill="#0000fb"/>
<text x="928.2" y="199.2" font-size="26" text-anchor="end">50</text>
<text x="928.2" y="242.0" font-size="26" text-anchor="end">100</text>
<text x="928.2" y="327.5" font-size="26" text-anchor="end">200</text>
<text x="928.2" y="413.0" font-size="26" text-anchor="end">300</text>
<text x="928.2" y="498.6" font-size="26" text-anchor="end">400</text>
<text x="928.2" y="584.1" font-size="26" text-anchor="end">500</text>
<text x="928.2" y="669.6" font-size="26" text-anchor="end">600</text>
<text x="928.2" y="755.2" font-size="26" text-anchor="end">700</text>
<text x="928.2" y="840.7" font-size="26" text-anchor="end">800</text>
<text x="928.2" y="926.2" font-size="26" text-anchor="end">900</text>
<text x="928.2" y="1011.8" font-size="26" text-anchor="end">1000</text>
<text x="928.2" y="1097.3" font-size="26" text-anchor="end">1100</text>
<text x="936.8" y="1119.3" font-size="26" text-anchor="middle">0</text>
<text x="1060.8" y="1119.3" font-size="26" text-anchor="middle">10</text>
<text x="1184.3" y="1119.3" font-size="26" text-anchor="middle">20</text>
<text x="1335.0" y="1119.3" font-size="26" text-anchor="middle">0</text>
<text x="1460.0" y="1119.3" font-size="26" text-anchor="middle">10</text>
<text x="1582.0" y="1119.3" font-size="26" text-anchor="middle">20</text>
<text x="1084.5" y="1148.6" font-size="33" text-anchor="middle">Percent of Time</text>
<text x="1476.1" y="1149.2" font-size="33" text-anchor="middle">Percent of Time</text>
<text x="1136.9" y="266.7" font-size="33" text-anchor="middle">58% at depths</text>
<text x="1136.8" y="306.5" font-size="33" text-anchor="middle">&lt; 200m</text>
<text x="1533.0" y="271.7" font-size="33" text-anchor="middle">76% at depths</text>
<text x="1532.1" y="311.5" font-size="33" text-anchor="middle">&lt; 200m</text>
<rect x="1027.7" y="1024.5" width="58" height="18.5" fill="#fd0000"/>
<rect x="1027.7" y="1047.8" width="58" height="18.6" fill="#0000fb"/>
<text x="1089.3" y="1039.9" font-size="23.5">anticyclones</text>
<text x="1089.3" y="1062.7" font-size="23.5">cyclones</text>
<rect x="1426.2" y="1024.5" width="58" height="18.5" fill="#fd0000"/>
<rect x="1426.2" y="1047.8" width="58" height="18.6" fill="#0000fb"/>
<text x="1488.2" y="1039.9" font-size="23.5">anticyclones</text>
<text x="1488.2" y="1062.7" font-size="23.5">cyclones</text>
</svg>
</body></html>
